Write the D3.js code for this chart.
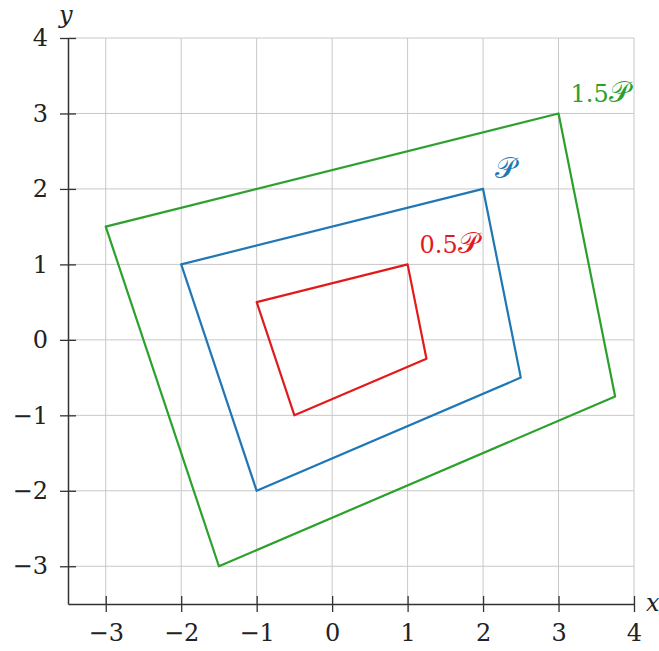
<!DOCTYPE html>
<html>
<head>
<meta charset="utf-8">
<script src="https://cdn.jsdelivr.net/npm/d3@7"></script>
<style>
  body { margin: 0; background: #fff; }
  text { font-family: "DejaVu Serif", "Liberation Serif", serif; }
</style>
</head>
<body>
<div id="chart"></div>
<script>
const xTicks = [-3, -2, -1, 0, 1, 2, 3, 4];
const yTicks = [-3, -2, -1, 0, 1, 2, 3, 4];

// polygon vertices
const polyP = [[-2, 1], [2, 2], [2.5, -0.5], [-1, -2]];
const polyHalf = [[-1, 0.5], [1, 1], [1.25, -0.25], [-0.5, -1]];
const polyOneHalf = [[-3, 1.5], [3, 3], [3.75, -0.75], [-1.5, -3]];

const polyScales = ["1.5", "", "0.5"];
const polyColors = ["#2ca02c", "#1f77b4", "#e31a1c"];
// label anchor points (the top-right vertex of each)
const labelAt = [[3, 3], [2, 2], [1, 1]];

const W = 659, H = 651;
const MARGIN = {TOP: 38, BOTTOM: 47, LEFT: 68, RIGHT: 25};

const svg = d3.select("#chart").append("svg")
    .attr("width", W)
    .attr("height", H);

const x = d3.scaleLinear().domain([-3.5, 4]).range([MARGIN.LEFT, W - MARGIN.RIGHT]);
const y = d3.scaleLinear().domain([-3.5, 4]).range([H - MARGIN.BOTTOM, MARGIN.TOP]);

// grid
svg.append("g").selectAll("line")
    .data(xTicks).enter().append("line")
    .attr("x1", d => x(d)).attr("x2", d => x(d))
    .attr("y1", y(-3.5)).attr("y2", y(4))
    .attr("stroke", "#c8c8c8").attr("stroke-width", 1);
svg.append("g").selectAll("line")
    .data(yTicks).enter().append("line")
    .attr("x1", x(-3.5)).attr("x2", x(4))
    .attr("y1", d => y(d)).attr("y2", d => y(d))
    .attr("stroke", "#c8c8c8").attr("stroke-width", 1);

// axes
const fmt = d => d < 0 ? "\u2212" + Math.abs(d) : String(d);
const xAxis = svg.append("g")
    .attr("transform", `translate(0, ${y(-3.5)})`)
    .call(d3.axisBottom(x).tickValues(xTicks).tickFormat(fmt).tickSizeInner(8).tickSizeOuter(0).tickPadding(12));
const yAxis = svg.append("g")
    .attr("transform", `translate(${x(-3.5)}, 0)`)
    .call(d3.axisLeft(y).tickValues(yTicks).tickFormat(fmt).tickSizeInner(8).tickSizeOuter(0).tickPadding(12));

[xAxis, yAxis].forEach(g => {
    g.select(".domain").attr("stroke", "#333").attr("stroke-width", 1.5);
    g.selectAll(".tick line").attr("stroke", "#333").attr("stroke-width", 1.3);
    g.selectAll(".tick text").attr("font-size", 24).attr("fill", "#222")
        .style("font-family", '"DejaVu Serif", serif');
});
// ticks cross the axis line
xAxis.selectAll(".tick line").attr("y1", -8);
yAxis.selectAll(".tick line").attr("x1", 8);

// axis names
svg.append("text").attr("x", x(4) + 12).attr("y", y(-3.5) + 7)
    .attr("font-size", 24).attr("font-style", "italic").attr("fill", "#222").text("x");
svg.append("text").attr("x", x(-3.5) - 9).attr("y", y(4) - 15)
    .attr("font-size", 24).attr("font-style", "italic").attr("fill", "#222").text("y");

// polygons
const line = d3.line().x(d => x(d[0])).y(d => y(d[1])).curve(d3.curveLinearClosed);
[polyOneHalf, polyP, polyHalf].forEach((p, i) => {
    svg.append("path")
        .attr("d", line(p))
        .attr("fill", "none")
        .attr("stroke", polyColors[i])
        .attr("stroke-width", 2.2)
        .attr("stroke-linejoin", "round");
    const t = svg.append("text")
        .attr("x", x(labelAt[i][0]) + 12)
        .attr("y", y(labelAt[i][1]) - 11)
        .attr("font-size", 24)
        .attr("fill", polyColors[i]);
    t.append("tspan").text(polyScales[i]);
    t.append("tspan").attr("font-size", 29).attr("font-weight", "normal").text("𝒫");
});
</script>
</body>
</html>
